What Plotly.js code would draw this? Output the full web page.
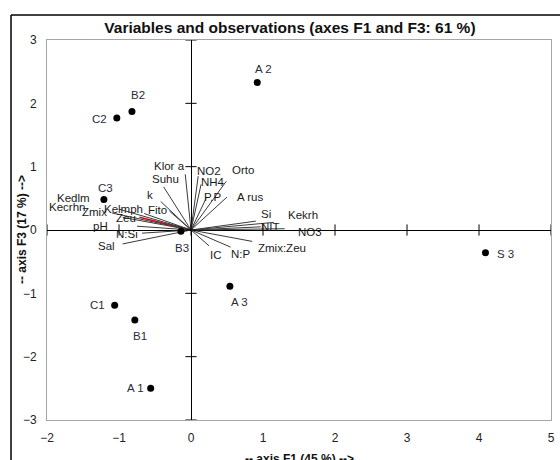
<!DOCTYPE html>
<html>
<head>
<meta charset="utf-8">
<script src="https://cdn.plot.ly/plotly-3.0.1.min.js"></script>
<style>html,body{margin:0;padding:0;background:#fff;}#chart{width:560px;height:460px;}</style>
</head>
<body>
<div id="chart"></div>
<script>
// Observations (F1, F3)
const obsNames = ["A 2", "B2", "C2", "C3", "B3", "S 3", "A 3", "C1", "B1", "A 1"];
const obsF1 = [0.92, -0.82, -1.03, -1.21, -0.14, 4.09, 0.54, -1.06, -0.78, -0.56];
const obsF3 = [2.33, 1.87, 1.77, 0.48, -0.02, -0.36, -0.89, -1.19, -1.42, -2.50];

// Variables (vector endpoints, F1, F3)
const varNames = ["Kedlm", "Kecrhn", "Zmix", "Kelmph", "Fito", "k", "Suhu", "Klor a", "NO2", "NH4", "Orto", "P.P", "A rus",
                  "Si", "Kekrh", "NIT", "NO3", "Zmix:Zeu", "N:P", "IC", "pH", "N:Si", "Sal"];
const varF1 = [-1.00, -1.10, -0.95, -0.65, -0.30, -0.42, -0.38, -0.08, 0.10, 0.14, 0.49, 0.21, 0.50,
               0.90, 1.15, 0.97, 1.30, 0.85, 0.55, 0.25, -0.75, -0.68, -0.95];
const varF3 = [0.33, 0.27, 0.20, 0.26, 0.30, 0.45, 0.68, 0.88, 0.85, 0.72, 0.77, 0.50, 0.52,
               0.14, 0.12, 0.05, 0.02, -0.18, -0.27, -0.25, 0.06, -0.05, -0.22];
const redVar = "Zeu";
const redF1 = -0.715, redF3 = 0.20;

const xTicks = [-2, -1, 0, 1, 2, 3, 4, 5];
const yTicks = [-3, -2, -1, 0, 1, 2, 3];

// label offsets in pixels (style, not data)
const varShift = [[-46, 11], [-45, 6], [-28, 5], [-21, 4.5], [-12, 1.5], [-11, 7], [2, 8], [-16, 8], [11, 5], [12, 2],
                  [17, 11], [6, 1], [23, 0], [10, 7.5], [29, 7], [10, -0.5], [25, -3], [30, -7], [10, -7], [6.5, -9],
                  [-37, 0], [-15, -1], [-16, -2.5]];
const redShift = [-14, -0.5];
const obsShift = [[6, 13], [6, 17], [-17, -1], [2, 12], [1, -16.5], [20, -1], [10, -16], [-17.5, 0], [5, -16], [-15, 0]];

const FONT = "Liberation Sans, Arial, sans-serif";

const lx = [], ly = [];
varF1.forEach((v, i) => { lx.push(0, v, null); ly.push(0, varF3[i], null); });

const traces = [
  { type: "scatter", mode: "lines", x: [0, redF1], y: [0, redF3],
    line: { color: "#d01010", width: 1.5 }, hoverinfo: "skip", showlegend: false },
  { type: "scatter", mode: "lines", x: lx, y: ly,
    line: { color: "#3a3a3a", width: 1 }, hoverinfo: "skip", showlegend: false },
  // tick crosses on the zero lines
  { type: "scatter", mode: "markers", x: yTicks.map(() => 0), y: yTicks,
    marker: { symbol: "line-ew", size: 8, line: { color: "#000", width: 1 } }, hoverinfo: "skip", showlegend: false },
  { type: "scatter", mode: "markers", x: xTicks, y: xTicks.map(() => 0),
    marker: { symbol: "line-ns", size: 8, line: { color: "#000", width: 1 } }, hoverinfo: "skip", showlegend: false },
  { type: "scatter", mode: "markers", x: obsF1, y: obsF3,
    marker: { color: "#000", size: 7 }, hoverinfo: "skip", showlegend: false }
];

const lblFont = { family: FONT, size: 11.5, color: "#1a1a1a" };
const annotations = [];
varNames.forEach((n, i) => annotations.push({
  text: n, x: varF1[i], y: varF3[i], xref: "x", yref: "y", showarrow: false,
  xanchor: "center", yanchor: "middle", xshift: varShift[i][0], yshift: varShift[i][1], font: lblFont
}));
annotations.push({ text: redVar, x: redF1, y: redF3, xref: "x", yref: "y", showarrow: false,
  xanchor: "center", yanchor: "middle", xshift: redShift[0], yshift: redShift[1], font: lblFont });
obsNames.forEach((n, i) => annotations.push({
  text: n, x: obsF1[i], y: obsF3[i], xref: "x", yref: "y", showarrow: false,
  xanchor: "center", yanchor: "middle", xshift: obsShift[i][0], yshift: obsShift[i][1],
  font: { family: FONT, size: 11.5, color: "#2a2a3a" }
}));
annotations.push(
  { text: "<b>-- axis F1 (45 %) --></b>", xref: "paper", yref: "paper", x: 0.5, y: -0.08,
    xanchor: "center", yanchor: "top", showarrow: false, font: { family: FONT, size: 12, color: "#111" } },
  { text: "<b>-- axis F3 (17 %) --></b>", xref: "paper", yref: "paper", x: -0.0496, y: 0.5,
    xanchor: "center", yanchor: "middle", textangle: -90, showarrow: false, font: { family: FONT, size: 12, color: "#111" } }
);

const axisCommon = {
  showgrid: false, zeroline: true, zerolinecolor: "#000", zerolinewidth: 1,
  showline: true, mirror: true, linecolor: "#a6a6a6", linewidth: 1,
  ticks: "outside", ticklen: 7, tickcolor: "rgba(0,0,0,0)",
  tickfont: { family: FONT, size: 12, color: "#222" }, fixedrange: true
};

const layout = {
  width: 560, height: 460,
  margin: { l: 47, r: 9, t: 40, b: 40 },
  paper_bgcolor: "#fff", plot_bgcolor: "#fff",
  font: { family: FONT },
  title: { text: "<b>Variables and observations (axes F1 and F3: 61 %)</b>",
           font: { family: FONT, size: 15.5, color: "#111" },
           xref: "paper", x: 0.482, xanchor: "center", yref: "container", y: 0.939, yanchor: "middle" },
  xaxis: Object.assign({}, axisCommon, { range: [-2, 5], tickvals: xTicks }),
  yaxis: Object.assign({}, axisCommon, { range: [-3, 3], tickvals: yTicks }),
  annotations: annotations,
  shapes: [
    { type: "line", xref: "paper", yref: "paper", x0: -0.0714, x1: -0.0714, y0: 1.066, y1: -0.2, line: { color: "#000", width: 1.5 } },
    { type: "line", xref: "paper", yref: "paper", x0: -0.0714, x1: 1.1, y0: 1.066, y1: 1.066, line: { color: "#000", width: 1.5 } }
  ]
};

Plotly.newPlot("chart", traces, layout, { staticPlot: true, displayModeBar: false });
</script>
</body>
</html>
